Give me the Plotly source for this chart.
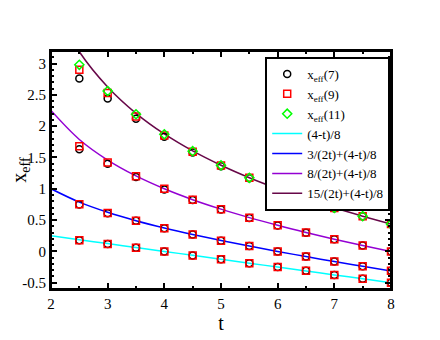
import plotly.graph_objects as go

# curve samples (t step 0.5)
t_line = [2.0, 2.5, 3.0, 3.5, 4.0, 4.5, 5.0, 5.5, 6.0, 6.5, 7.0, 7.5, 8.0]
curve_0 = [0.25, 0.1875, 0.125, 0.0625, 0.0, -0.0625, -0.125, -0.1875, -0.25, -0.3125, -0.375, -0.4375, -0.5]
curve_3 = [1.0, 0.7875, 0.625, 0.491, 0.375, 0.271, 0.175, 0.085, 0.0, -0.082, -0.161, -0.2375, -0.3125]
curve_8 = [2.25, 1.7875, 1.458, 1.205, 1.0, 0.826, 0.675, 0.540, 0.417, 0.303, 0.196, 0.096, 0.0]
curve_15 = [4.0, 3.1875, 2.625, 2.205, 1.875, 1.604, 1.375, 1.176, 1.0, 0.841, 0.696, 0.5625, 0.4375]

# measured points
t_pts = [2.5, 3.0, 3.5, 4.0, 4.5, 5.0, 5.5, 6.0, 6.5, 7.0, 7.5, 8.0]
x7_a = [0.18, 0.12, 0.06, 0.0, -0.065, -0.125, -0.19, -0.25, -0.31, -0.375, -0.435, -0.5]
x7_b = [0.75, 0.61, 0.49, 0.37, 0.27, 0.17, 0.085, 0.0, -0.08, -0.16, -0.235, -0.31]
x7_c = [1.63, 1.40, 1.19, 0.99, 0.82, 0.67, 0.535, 0.415, 0.30, 0.195, 0.095, 0.0]
x7_d = [2.76, 2.44, 2.12, 1.83, 1.58, 1.36, 1.17, 0.99, 0.835, 0.69, 0.56, 0.435]
x9_a = [0.18, 0.12, 0.06, 0.0, -0.065, -0.125, -0.19, -0.25, -0.31, -0.375, -0.435, -0.5]
x9_b = [0.755, 0.615, 0.49, 0.37, 0.27, 0.172, 0.085, 0.0, -0.08, -0.16, -0.235, -0.31]
x9_c = [1.68, 1.42, 1.20, 1.0, 0.825, 0.672, 0.538, 0.416, 0.302, 0.196, 0.096, 0.0]
x9_d = [2.90, 2.53, 2.155, 1.85, 1.59, 1.37, 1.175, 0.995, 0.84, 0.695, 0.562, 0.437]
x11_d = [2.98, 2.56, 2.19, 1.87, 1.60, 1.375, 1.176, 1.0, 0.841, 0.696, 0.563, 0.438]

y_ticks = [-0.5, 0, 0.5, 1, 1.5, 2, 2.5, 3]
y_labels = ["-0.5", "0", "0.5", "1", "1.5", "2", "2.5", "3"]

serif = "Liberation Serif"

fig = go.Figure()

lines = [
    (curve_0, "#00FFFF", "(4-t)/8"),
    (curve_3, "#0000FF", "3/(2t)+(4-t)/8"),
    (curve_8, "#9400D3", "8/(2t)+(4-t)/8"),
    (curve_15, "#670748", "15/(2t)+(4-t)/8"),
]
for i, (ys, col, name) in enumerate(lines):
    fig.add_trace(go.Scatter(x=t_line, y=ys, mode="lines", name=name,
                             line=dict(color=col, width=1.5, shape="spline"),
                             legendrank=10 + i))

series = [
    (x7_a + x7_b + x7_c + x7_d, t_pts * 4, "circle-open", "black", "x<sub>eff</sub>(7)"),
    (x9_a + x9_b + x9_c + x9_d, t_pts * 4, "square-open", "#FF0000", "x<sub>eff</sub>(9)"),
    (x11_d, t_pts, "diamond-open", "#00FF00", "x<sub>eff</sub>(11)"),
]
for i, (ys, xs, sym, col, name) in enumerate(series):
    fig.add_trace(go.Scatter(x=xs, y=ys, mode="markers", name=name,
                             marker=dict(symbol=sym, size=7, color=col,
                                         line=dict(color=col, width=1.5)),
                             legendrank=i + 1))

axis_common = dict(showline=True, linecolor="black", linewidth=2, mirror="allticks",
                   ticks="inside", ticklen=6, tickwidth=1.5, tickcolor="black",
                   showgrid=False, zeroline=False, automargin=False,
                   tickfont=dict(family=serif, size=15, color="black"))

fig.update_xaxes(range=[2, 8], dtick=1, minor=dict(dtick=0.5, ticks="inside", ticklen=3,
                                                    tickcolor="black", tickwidth=1.5),
                 title=dict(text="t", font=dict(family=serif, size=20, color="black"), standoff=0),
                 **axis_common)
fig.update_yaxes(range=[-0.6, 3.2], tickvals=y_ticks, ticktext=y_labels,
                 minor=dict(dtick=0.1, ticks="inside", ticklen=3, tickcolor="black", tickwidth=1.5),
                 title=dict(text="x<sub>eff</sub>", font=dict(family=serif, size=20, color="black"),
                            standoff=6),
                 **axis_common)

# frame drawn as a shape too, in case the axis lines get lost
fig.add_shape(type="rect", xref="paper", yref="paper", x0=0, y0=0, x1=1, y1=1,
              line=dict(color="black", width=2), layer="above")

# page body has an 8px margin, so the figure is sized to sit inside the 440x340 window
fig.update_layout(
    width=432, height=332,
    margin=dict(l=43, r=49, t=43, b=51),
    plot_bgcolor="white", paper_bgcolor="white",
    font=dict(family=serif, size=13, color="black"),
    legend=dict(x=0.63, y=0.975, xanchor="left", yanchor="top",
                bordercolor="black", borderwidth=2, bgcolor="white",
                font=dict(family=serif, size=13), tracegroupgap=0, itemwidth=30),
)

fig.write_html("out.html")
